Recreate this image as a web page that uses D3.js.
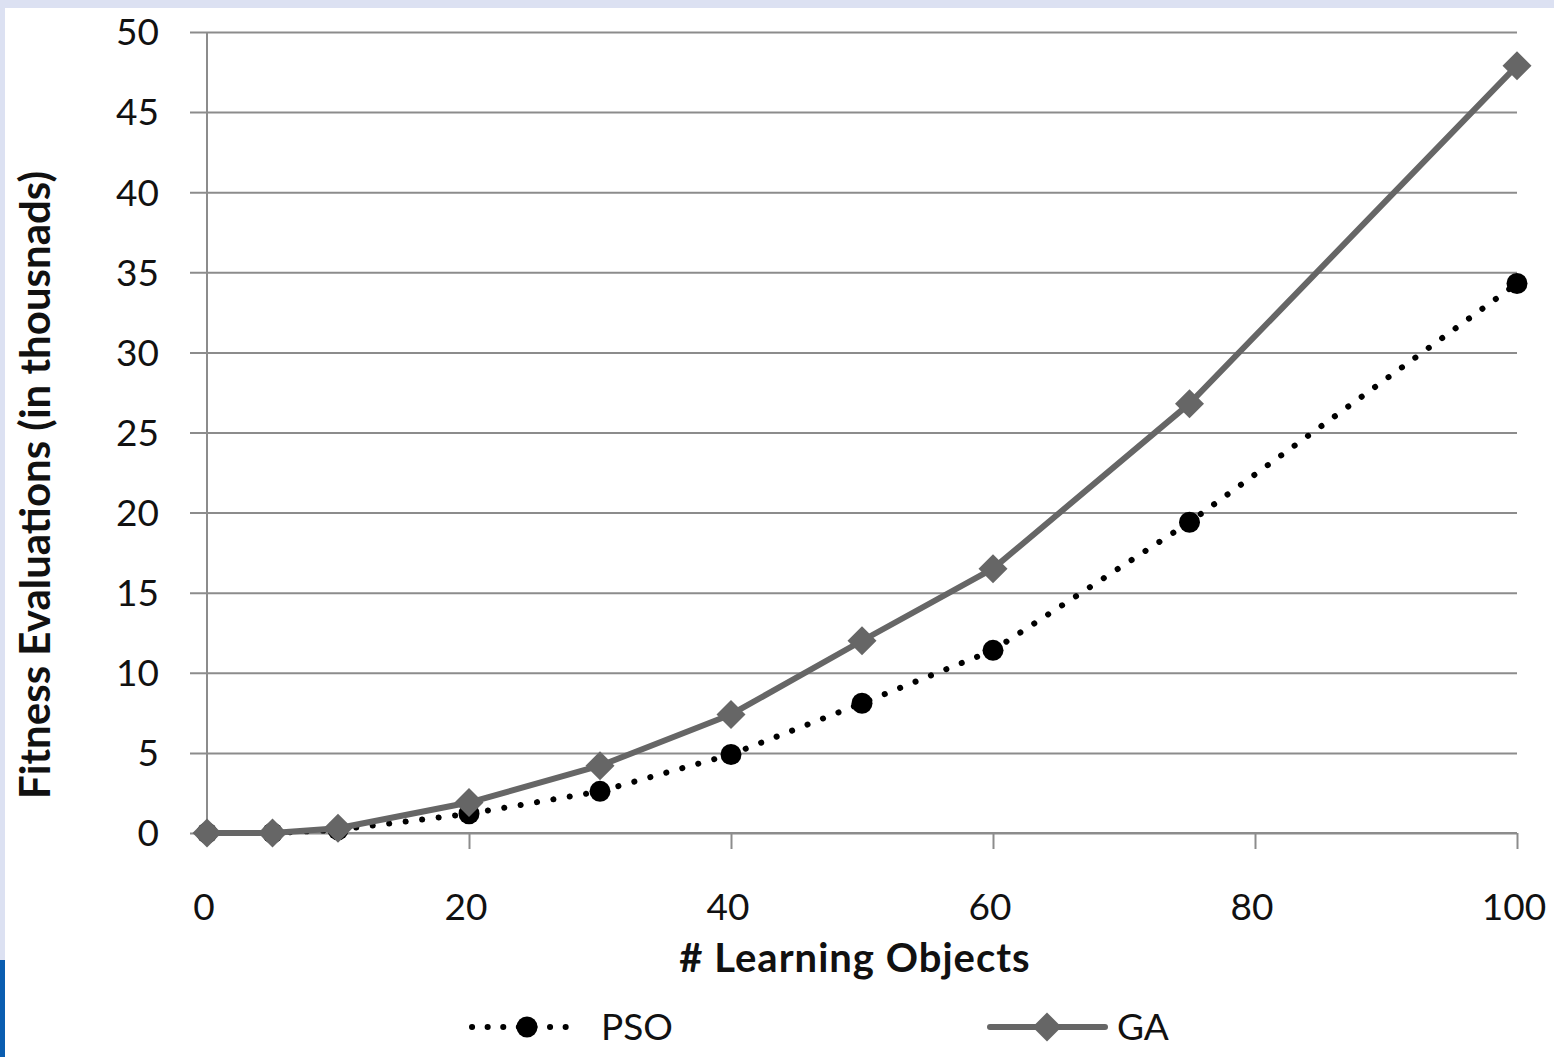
<!DOCTYPE html>
<html>
<head>
<meta charset="utf-8">
<script src="https://cdn.jsdelivr.net/npm/d3@7"></script>
<style>
  html, body { margin: 0; padding: 0; background: #dce1f2; }
  svg { display: block; }
</style>
</head>
<body>
<svg id="chart" width="1554" height="1057"></svg>
<script>
// data
var xValues = [0, 5, 10, 20, 30, 40, 50, 60, 75, 100]
var psoValues = [0, 0, 0.2, 1.2, 2.6, 4.9, 8.1, 11.4, 19.4, 34.3]
var gaValues = [0, 0, 0.3, 1.9, 4.2, 7.4, 12.0, 16.5, 26.8, 47.9]
var yTicks = [0, 5, 10, 15, 20, 25, 30, 35, 40, 45, 50]
var xTicks = [0, 20, 40, 60, 80, 100]

var font = "Lato, 'Open Sans', sans-serif"
var gridColor = '#8c8c8c'
var gaColor = '#666666'

var svg = d3.select('#chart')

// panel background
svg.append('rect')
    .attr('x', 0).attr('y', 0)
    .attr('width', 1554).attr('height', 1057)
    .attr('fill', '#dce1f2')
svg.append('rect')
    .attr('x', 5).attr('y', 8)
    .attr('width', 1549).attr('height', 1049)
    .attr('fill', '#ffffff')
svg.append('rect')
    .attr('x', 0).attr('y', 960)
    .attr('width', 5).attr('height', 97)
    .attr('fill', '#0a5db0')

var x = d3.scaleLinear().domain([0, 100]).range([207, 1517])
var y = d3.scaleLinear().domain([0, 50]).range([833, 32])

// horizontal gridlines (y axis with long ticks)
var yAxis = d3.axisLeft(y)
    .tickValues(yTicks)
    .tickSize(-(1517 - 190))
    .tickPadding(0)
    .tickFormat('')
var gy = svg.append('g')
    .attr('transform', 'translate(190,0)')
    .call(yAxis)
gy.select('.domain').remove()
gy.selectAll('.tick line')
    .attr('stroke', gridColor)
    .attr('stroke-width', 2)

// y tick labels
svg.append('g').selectAll('text')
    .data(yTicks)
    .join('text')
    .attr('x', 159)
    .attr('y', function(d) { return y(d); })
    .attr('dy', '0.36em')
    .attr('text-anchor', 'end')
    .style('font-family', font)
    .style('font-size', '37px')
    .attr('fill', '#111')
    .text(function(d) { return d; })

// vertical axis line
svg.append('line')
    .attr('x1', x(0)).attr('x2', x(0))
    .attr('y1', y(50)).attr('y2', y(0))
    .attr('stroke', gridColor)
    .attr('stroke-width', 2)

// x axis
var xAxis = d3.axisBottom(x)
    .tickValues(xTicks)
    .tickSize(16)
    .tickFormat('')
var gx = svg.append('g')
    .attr('transform', 'translate(0,' + y(0) + ')')
    .call(xAxis)
gx.select('.domain')
    .attr('stroke', gridColor)
    .attr('stroke-width', 2)
    .attr('d', 'M' + x(0) + ',0H' + x(100))
gx.selectAll('.tick line')
    .attr('stroke', gridColor)
    .attr('stroke-width', 2)
gx.selectAll('.tick').filter(function(d) { return d === 0; }).remove()

svg.append('g').selectAll('text')
    .data(xTicks)
    .join('text')
    .attr('x', function(d) { return x(d) - 3; })
    .attr('y', 920)
    .attr('text-anchor', 'middle')
    .style('font-family', font)
    .style('font-size', '37px')
    .attr('fill', '#111')
    .text(function(d) { return d; })

// axis titles
svg.append('text')
    .attr('transform', 'translate(50,485) rotate(-90)')
    .attr('text-anchor', 'middle')
    .style('font-family', font)
    .style('font-size', '42px')
    .style('font-weight', 'bold')
    .attr('fill', '#111')
    .text('Fitness Evaluations (in thousnads)')

svg.append('text')
    .attr('x', 855)
    .attr('y', 972)
    .attr('text-anchor', 'middle')
    .style('font-family', font)
    .style('font-size', '40px')
    .style('font-weight', 'bold')
    .style('letter-spacing', '1px')
    .attr('fill', '#111')
    .text('# Learning Objects')

var pso = xValues.map(function(d, i) { return {x: d, y: psoValues[i]}; })
var ga = xValues.map(function(d, i) { return {x: d, y: gaValues[i]}; })

var line = d3.line()
    .x(function(d) { return x(d.x); })
    .y(function(d) { return y(d.y); })

var diamond = d3.symbol().type(d3.symbolSquare).size(420)

// PSO series (dotted, round markers)
svg.append('path')
    .datum(pso)
    .attr('d', line)
    .attr('fill', 'none')
    .attr('stroke', '#000')
    .attr('stroke-width', 6)
    .attr('stroke-linecap', 'round')
    .attr('stroke-dasharray', '0.1 16.5')

svg.append('g').selectAll('circle')
    .data(pso)
    .join('circle')
    .attr('cx', function(d) { return x(d.x); })
    .attr('cy', function(d) { return y(d.y); })
    .attr('r', 10.5)
    .attr('fill', '#000')

// GA series (solid gray, diamond markers)
svg.append('path')
    .datum(ga)
    .attr('d', line)
    .attr('fill', 'none')
    .attr('stroke', gaColor)
    .attr('stroke-width', 6)
    .attr('stroke-linejoin', 'round')

svg.append('g').selectAll('path')
    .data(ga)
    .join('path')
    .attr('d', diamond)
    .attr('transform', function(d) {
        return 'translate(' + x(d.x) + ',' + y(d.y) + ') rotate(45)';
    })
    .attr('fill', gaColor)

// legend
var legend = svg.append('g')

legend.append('line')
    .attr('x1', 472).attr('x2', 576)
    .attr('y1', 1027).attr('y2', 1027)
    .attr('stroke', '#000')
    .attr('stroke-width', 6)
    .attr('stroke-linecap', 'round')
    .attr('stroke-dasharray', '0.1 15.5')
legend.append('circle')
    .attr('cx', 527).attr('cy', 1027)
    .attr('r', 10.5)
    .attr('fill', '#000')
legend.append('text')
    .attr('x', 601).attr('y', 1040)
    .style('font-family', font)
    .style('font-size', '37px')
    .attr('fill', '#111')
    .text('PSO')

legend.append('line')
    .attr('x1', 990).attr('x2', 1105)
    .attr('y1', 1027).attr('y2', 1027)
    .attr('stroke', gaColor)
    .attr('stroke-width', 6)
    .attr('stroke-linecap', 'round')
legend.append('path')
    .attr('d', diamond)
    .attr('transform', 'translate(1047,1027) rotate(45)')
    .attr('fill', gaColor)
legend.append('text')
    .attr('x', 1117).attr('y', 1040)
    .style('font-family', font)
    .style('font-size', '37px')
    .attr('fill', '#111')
    .text('GA')
</script>
</body>
</html>
